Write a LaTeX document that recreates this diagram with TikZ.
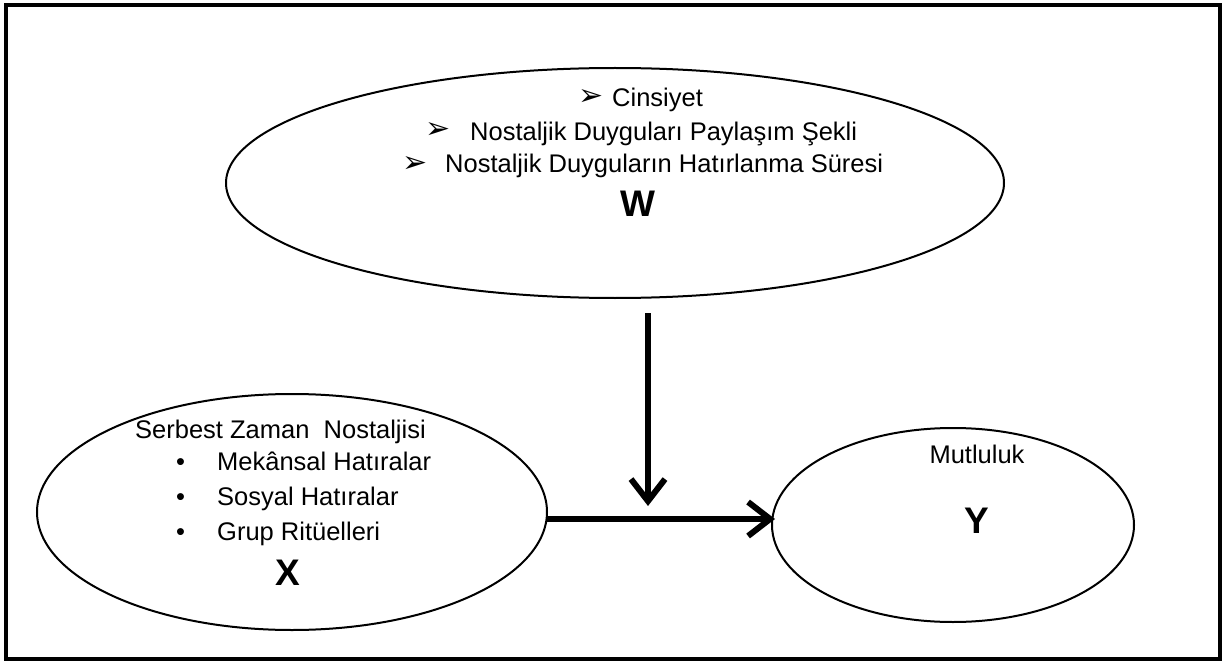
\documentclass[tikz,border=0pt]{standalone}
\usepackage{fontspec}
\setmainfont{Liberation Sans}
\newfontfamily\symfont{DejaVu Sans}
\usetikzlibrary{arrows.meta}
\begin{document}
\begin{tikzpicture}[x=1pt,y=-1pt,
  oval/.style={draw,line width=2pt},
  txt/.style={font=\fontsize{25.5}{28}\selectfont,anchor=base west,inner sep=0pt},
  glyph/.style={font=\symfont\fontsize{30}{32}\selectfont,anchor=west,inner sep=0pt},
  big/.style={font=\fontsize{37}{40}\selectfont\bfseries,anchor=base,inner sep=0pt},
  link/.style={line width=6pt,-{Straight Barb[length=22pt,width=34pt,line width=6pt]}}]
\useasboundingbox (0,0) rectangle (1227,666);
\draw[line width=4.5pt] (6,5) rectangle (1220,659);
% ellipses
\draw[oval] (615,183) ellipse[x radius=389,y radius=115];
\draw[oval] (292,512) ellipse[x radius=255,y radius=118];
\draw[oval] (953,525) ellipse[x radius=181,y radius=97];
% W texts
\node[glyph] (wa) at (578,97.5) {➢};
\node[txt] (w1) at (612,107) {Cinsiyet};
\node[glyph] (wb) at (425,130.5) {➢};
\node[txt] (w2) at (470,141) {Nostaljik Duyguları Paylaşım Şekli};
\node[glyph] (wc) at (402,164.5) {➢};
\node[txt] (w3) at (445,173) {Nostaljik Duyguların Hatırlanma Süresi};
\node[big] (wl) at (638,217) {W};
% X texts
\node[txt] (x0) at (135,438) {Serbest Zaman\ \ Nostaljisi};
\node[txt] (xb1) at (176,470) {•};
\node[txt] (x1) at (217,470) {Mekânsal Hatıralar};
\node[txt] (xb2) at (176,505) {•};
\node[txt] (x2) at (217,505) {Sosyal Hatıralar};
\node[txt] (xb3) at (176,540) {•};
\node[txt] (x3) at (217,540) {Grup Ritüelleri};
\node[big] (xl) at (288,585) {X};
% Y texts
\node[txt,anchor=base] (y0) at (977,463) {Mutluluk};
\node[big] (yl) at (977,533) {Y};
% arrows
\coordinate (vs) at (648,313);
\coordinate (ve) at (648,506);
\coordinate (hs) at (546,519);
\coordinate (he) at (775,519);
\draw[link] (vs) -- (ve);
\draw[link] (hs) -- (he);
\end{tikzpicture}
\end{document}
